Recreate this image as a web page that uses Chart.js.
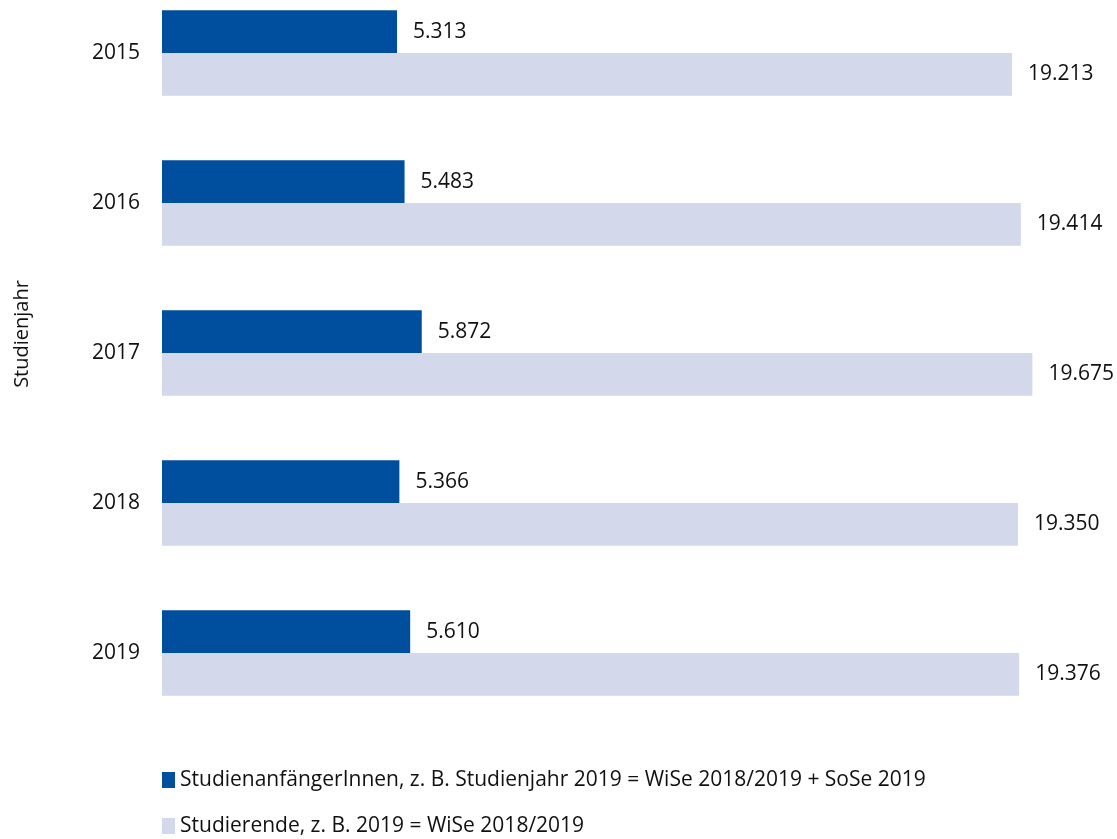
<!DOCTYPE html>
<html>
<head>
<meta charset="utf-8">
<script src="https://cdn.jsdelivr.net/npm/chart.js@4/dist/chart.umd.min.js"></script>
<style>
  html, body { margin: 0; padding: 0; background: #fff; overflow: hidden; }
  #wrap { width: 1117px; height: 839px; position: relative; }
</style>
</head>
<body>
<div id="wrap"><canvas id="chart"></canvas></div>
<script>
// Data
const years = ['2015', '2016', '2017', '2018', '2019'];
const beginners = [5313, 5483, 5872, 5366, 5610];
const students = [19213, 19414, 19675, 19350, 19376];
const seriesLabels = [
    'StudienanfängerInnen, z. B. Studienjahr 2019 = WiSe 2018/2019 + SoSe 2019',
    'Studierende, z. B. 2019 = WiSe 2018/2019'
];
const axisTitle = 'Studienjahr';

const colors = ['#004f9f', '#d3d8ea'];
const FONT = "'Open Sans', sans-serif";
const TEXT = '#111';

// German thousands separator
function fmt(v) {
    return String(v).replace(/\B(?=(\d{3})+(?!\d))/g, '.');
}

// Value labels right of each bar
const valueLabels = {
    id: 'valueLabels',
    afterDatasetsDraw(chart) {
        const ctx = chart.ctx;
        ctx.save();
        ctx.font = '21px ' + FONT;
        ctx.fillStyle = TEXT;
        ctx.textBaseline = 'middle';
        ctx.textAlign = 'left';
        chart.data.datasets.forEach((ds, i) => {
            chart.getDatasetMeta(i).data.forEach((bar, j) => {
                ctx.fillText(fmt(ds.data[j]), bar.x + 16, bar.y);
            });
        });
        ctx.restore();
    }
};

// Axis title and legend (left aligned, one row per series)
const extras = {
    id: 'extras',
    afterDraw(chart) {
        const ctx = chart.ctx;
        const left = chart.chartArea.left;
        ctx.save();
        ctx.fillStyle = TEXT;
        ctx.font = '20px ' + FONT;
        ctx.textAlign = 'center';
        ctx.textBaseline = 'middle';
        ctx.translate(22, 334);
        ctx.rotate(-Math.PI / 2);
        ctx.fillText(axisTitle, 0, 0);
        ctx.restore();

        ctx.save();
        ctx.font = '21px ' + FONT;
        ctx.textBaseline = 'middle';
        ctx.textAlign = 'left';
        chart.data.datasets.forEach((ds, i) => {
            const y = 780 + i * 46;
            ctx.fillStyle = ds.backgroundColor;
            ctx.fillRect(left, y - 8, 13, 16);
            ctx.fillStyle = TEXT;
            ctx.fillText(ds.label, left + 18, y);
        });
        ctx.restore();
    }
};

new Chart(document.getElementById('chart'), {
    type: 'bar',
    data: {
        labels: years,
        datasets: [
            { label: seriesLabels[0], data: beginners, backgroundColor: colors[0] },
            { label: seriesLabels[1], data: students, backgroundColor: colors[1] }
        ]
    },
    options: {
        indexAxis: 'y',
        responsive: true,
        maintainAspectRatio: false,
        animation: false,
        clip: false,
        categoryPercentage: 0.57,
        barPercentage: 1.0,
        layout: { padding: { top: 53, bottom: 186, left: 0, right: 26 } },
        plugins: {
            legend: { display: false },
            tooltip: { enabled: false }
        },
        scales: {
            x: { display: false, min: 0, max: 21000 },
            y: {
                offset: false,
                grid: { display: false },
                border: { display: false },
                ticks: { color: TEXT, font: { family: FONT, size: 21 }, padding: 14 },
                afterFit(scale) { scale.width = 162; }
            }
        }
    },
    plugins: [valueLabels, extras]
});
</script>
</body>
</html>
